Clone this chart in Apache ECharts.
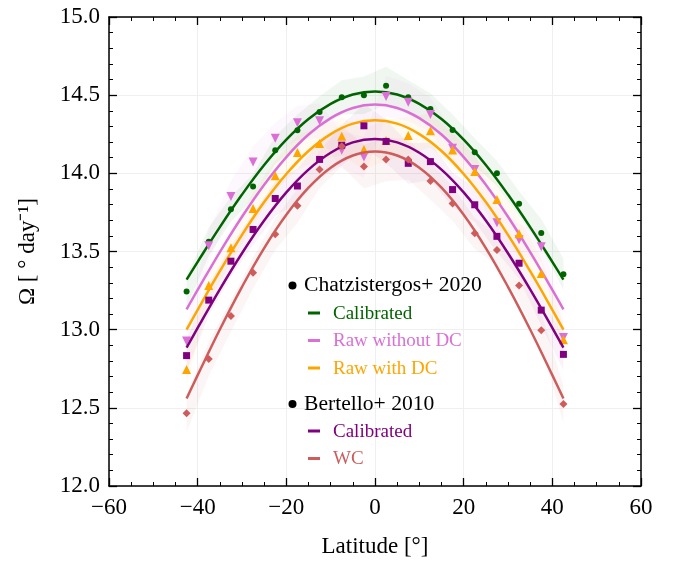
<!DOCTYPE html>
<html><head><meta charset="utf-8">
<script src="https://cdn.jsdelivr.net/npm/echarts@6/dist/echarts.min.js"></script>
<style>html,body{margin:0;padding:0;background:#fff}#c{width:673px;height:563px}</style>
</head><body><div id="c"></div>
<script>
// Latitudes of the measured points
const lat = [-42.5,-37.5,-32.5,-27.5,-22.5,-17.5,-12.5,-7.5,-2.5,2.5,7.5,12.5,17.5,22.5,27.5,32.5,37.5,42.5];
// Chatzistergos+ 2020
const chCal   = [13.244,13.563,13.771,13.916,14.148,14.276,14.393,14.486,14.499,14.561,14.486,14.412,14.277,14.135,14.000,13.805,13.618,13.354];
const chRawNoDC = [12.928,13.537,13.852,14.072,14.225,14.323,14.336,14.148,14.104,14.492,14.454,14.377,14.160,14.025,13.684,13.575,13.531,12.950];
const chRawDC = [12.745,13.282,13.524,13.775,13.985,14.134,14.191,14.237,14.153,14.210,14.242,14.273,14.150,14.011,13.832,13.614,13.359,12.935];
// Bertello+ 2010
const beCal = [12.834,13.189,13.438,13.641,13.839,13.919,14.089,14.180,14.304,14.204,14.064,14.075,13.896,13.799,13.597,13.425,13.125,12.842];
const beWC  = [12.465,12.813,13.087,13.364,13.610,13.792,14.025,14.174,14.043,14.089,14.089,13.951,13.807,13.616,13.510,13.282,12.996,12.524];
// uncertainty half-widths (shaded bands)
const errChCal  = [0.10,0.09,0.08,0.08,0.09,0.10,0.10,0.11,0.12,0.12,0.11,0.10,0.10,0.09,0.08,0.08,0.09,0.10];
const errChNoDC = [0.10,0.10,0.10,0.10,0.10,0.11,0.11,0.12,0.13,0.13,0.12,0.11,0.11,0.10,0.10,0.10,0.10,0.10];
const errChDC   = [0.10,0.10,0.10,0.10,0.10,0.11,0.11,0.12,0.13,0.13,0.12,0.11,0.11,0.10,0.10,0.10,0.10,0.10];
const errBeCal  = [0.10,0.10,0.10,0.10,0.11,0.11,0.12,0.13,0.14,0.14,0.13,0.12,0.11,0.11,0.10,0.10,0.10,0.10];
const errBeWC   = [0.12,0.11,0.10,0.10,0.10,0.11,0.12,0.13,0.14,0.14,0.13,0.12,0.11,0.10,0.10,0.10,0.11,0.12];
// fitted rotation profiles
const fitLat = [-42.5,-40,-35,-30,-25,-20,-15,-10,-5,0,5,10,15,20,25,30,35,40,42.5];
const fitChCal  = [13.320,13.434,13.656,13.864,14.053,14.215,14.347,14.444,14.504,14.524,14.504,14.444,14.347,14.215,14.053,13.864,13.656,13.434,13.320];
const fitChNoDC = [13.130,13.254,13.496,13.722,13.927,14.104,14.248,14.353,14.418,14.440,14.418,14.353,14.248,14.104,13.927,13.722,13.496,13.254,13.130];
const fitChDC   = [13.000,13.127,13.374,13.606,13.816,13.996,14.143,14.251,14.318,14.340,14.318,14.251,14.143,13.996,13.816,13.606,13.374,13.127,13.000];
const fitBeCal  = [12.885,13.011,13.258,13.489,13.698,13.878,14.024,14.132,14.198,14.220,14.198,14.132,14.024,13.878,13.698,13.489,13.258,13.011,12.885];
const fitBeWC   = [12.560,12.709,13.001,13.274,13.522,13.735,13.908,14.036,14.114,14.140,14.114,14.036,13.908,13.735,13.522,13.274,13.001,12.709,12.560];

const FONT = '"Liberation Serif","Times New Roman",serif';
const sets = [
  {vals:chCal, err:errChCal, fit:fitChCal, color:'#006400', band:'rgba(0,100,0,0.06)', symbol:'circle', size:6, rot:0},
  {vals:chRawNoDC, err:errChNoDC, fit:fitChNoDC, color:'#DA70D6', band:'rgba(218,112,214,0.05)', symbol:'triangle', size:9, rot:180},
  {vals:chRawDC, err:errChDC, fit:fitChDC, color:'#FFA500', band:'rgba(255,165,0,0.05)', symbol:'triangle', size:9, rot:0},
  {vals:beCal, err:errBeCal, fit:fitBeCal, color:'#800080', band:'rgba(128,0,128,0.05)', symbol:'rect', size:7, rot:0},
  {vals:beWC, err:errBeWC, fit:fitBeWC, color:'#CD5C5C', band:'rgba(205,92,92,0.06)', symbol:'diamond', size:8, rot:0}
];

const series = [];
sets.forEach((s,i)=>{
  series.push({type:'custom', silent:true, z:1, clip:true,
    data:[[lat[0], s.vals[0]]],
    renderItem:(params, api)=>{
      const up = lat.map((x,k)=>api.coord([x, s.vals[k]+s.err[k]]));
      const lo = lat.map((x,k)=>api.coord([x, s.vals[k]-s.err[k]])).reverse();
      return {type:'polygon', shape:{points:up.concat(lo)}, style:{fill:s.band, stroke:null}};
    }});
});
sets.forEach((s,i)=>{
  series.push({type:'scatter', data:lat.map((x,k)=>[x, s.vals[k]]), symbol:s.symbol, symbolSize:s.size,
    symbolRotate:s.rot, itemStyle:{color:s.color, opacity:1}, z:3+2*i});
  series.push({type:'line', data:fitLat.map((x,k)=>[x, s.fit[k]]), smooth:0.4, symbol:'none',
    lineStyle:{color:s.color, width:2.5}, z:4+2*i});
});

function axisCommon(split){
  return {
    axisLine:{show:true, onZero:false, lineStyle:{color:'#000', width:1.5}},
    axisTick:{show:true, inside:true, length:8, lineStyle:{color:'#000', width:1.3}},
    minorTick:{show:true, splitNumber:split, length:4, lineStyle:{color:'#000', width:1}}
  };
}
const fmtX = v => v<0 ? '\u2212'+(-v) : String(v);

const legendItems = [];
function header(y, txt){
  legendItems.push({type:'circle', shape:{cx:292.5, cy:y, r:4}, style:{fill:'#000'}, z:100});
  legendItems.push({type:'text', x:304, y:y, z:100, style:{text:txt, font:'21.6px '+FONT, fill:'#000', textVerticalAlign:'middle', verticalAlign:'middle'}});
}
function item(y, txt, col){
  legendItems.push({type:'line', shape:{x1:308, y1:y, x2:320, y2:y}, style:{stroke:col, lineWidth:3}, z:100});
  legendItems.push({type:'text', x:333, y:y+1, z:100, style:{text:txt, font:'19px '+FONT, fill:col, textVerticalAlign:'middle', verticalAlign:'middle'}});
}
header(285.5, 'Chatzistergos+ 2020');
item(313, 'Calibrated', '#006400');
item(340.5, 'Raw without DC', '#DA70D6');
item(368, 'Raw with DC', '#FFA500');
header(404, 'Bertello+ 2010');
item(431, 'Calibrated', '#800080');
item(458.5, 'WC', '#CD5C5C');

const option = {
  animation:false,
  backgroundColor:'#fff',
  grid:{left:109, right:32, top:17, bottom:75},
  xAxis:[
    Object.assign({type:'value', min:-60, max:60, interval:20, position:'bottom',
      axisLabel:{color:'#000', fontSize:23, fontFamily:FONT, margin:10, formatter:fmtX},
      splitLine:{show:true, lineStyle:{color:'#efefef', width:1}},
      name:'Latitude [°]', nameLocation:'middle', nameGap:49,
      nameTextStyle:{color:'#000', fontSize:23, fontFamily:FONT}}, axisCommon(4)),
    Object.assign({type:'value', min:-60, max:60, interval:20, position:'top',
      axisLabel:{show:false}, splitLine:{show:false}}, axisCommon(4))
  ],
  yAxis:[
    Object.assign({type:'value', min:12, max:15, interval:0.5, position:'left',
      axisLabel:{color:'#000', fontSize:23, fontFamily:FONT, margin:9, formatter:v=>v.toFixed(1)},
      splitLine:{show:true, lineStyle:{color:'#efefef', width:1}},
      name:'Ω [ ° day⁻¹]', nameLocation:'middle', nameGap:70, nameRotate:90,
      nameTextStyle:{color:'#000', fontSize:23, fontFamily:FONT}}, axisCommon(5)),
    Object.assign({type:'value', min:12, max:15, interval:0.5, position:'right',
      axisLabel:{show:false}, splitLine:{show:false}}, axisCommon(5))
  ],
  series:series,
  graphic:legendItems
};
const chart = echarts.init(document.getElementById('c'), null, {renderer:'canvas'});
chart.setOption(option);
</script>
</body></html>
